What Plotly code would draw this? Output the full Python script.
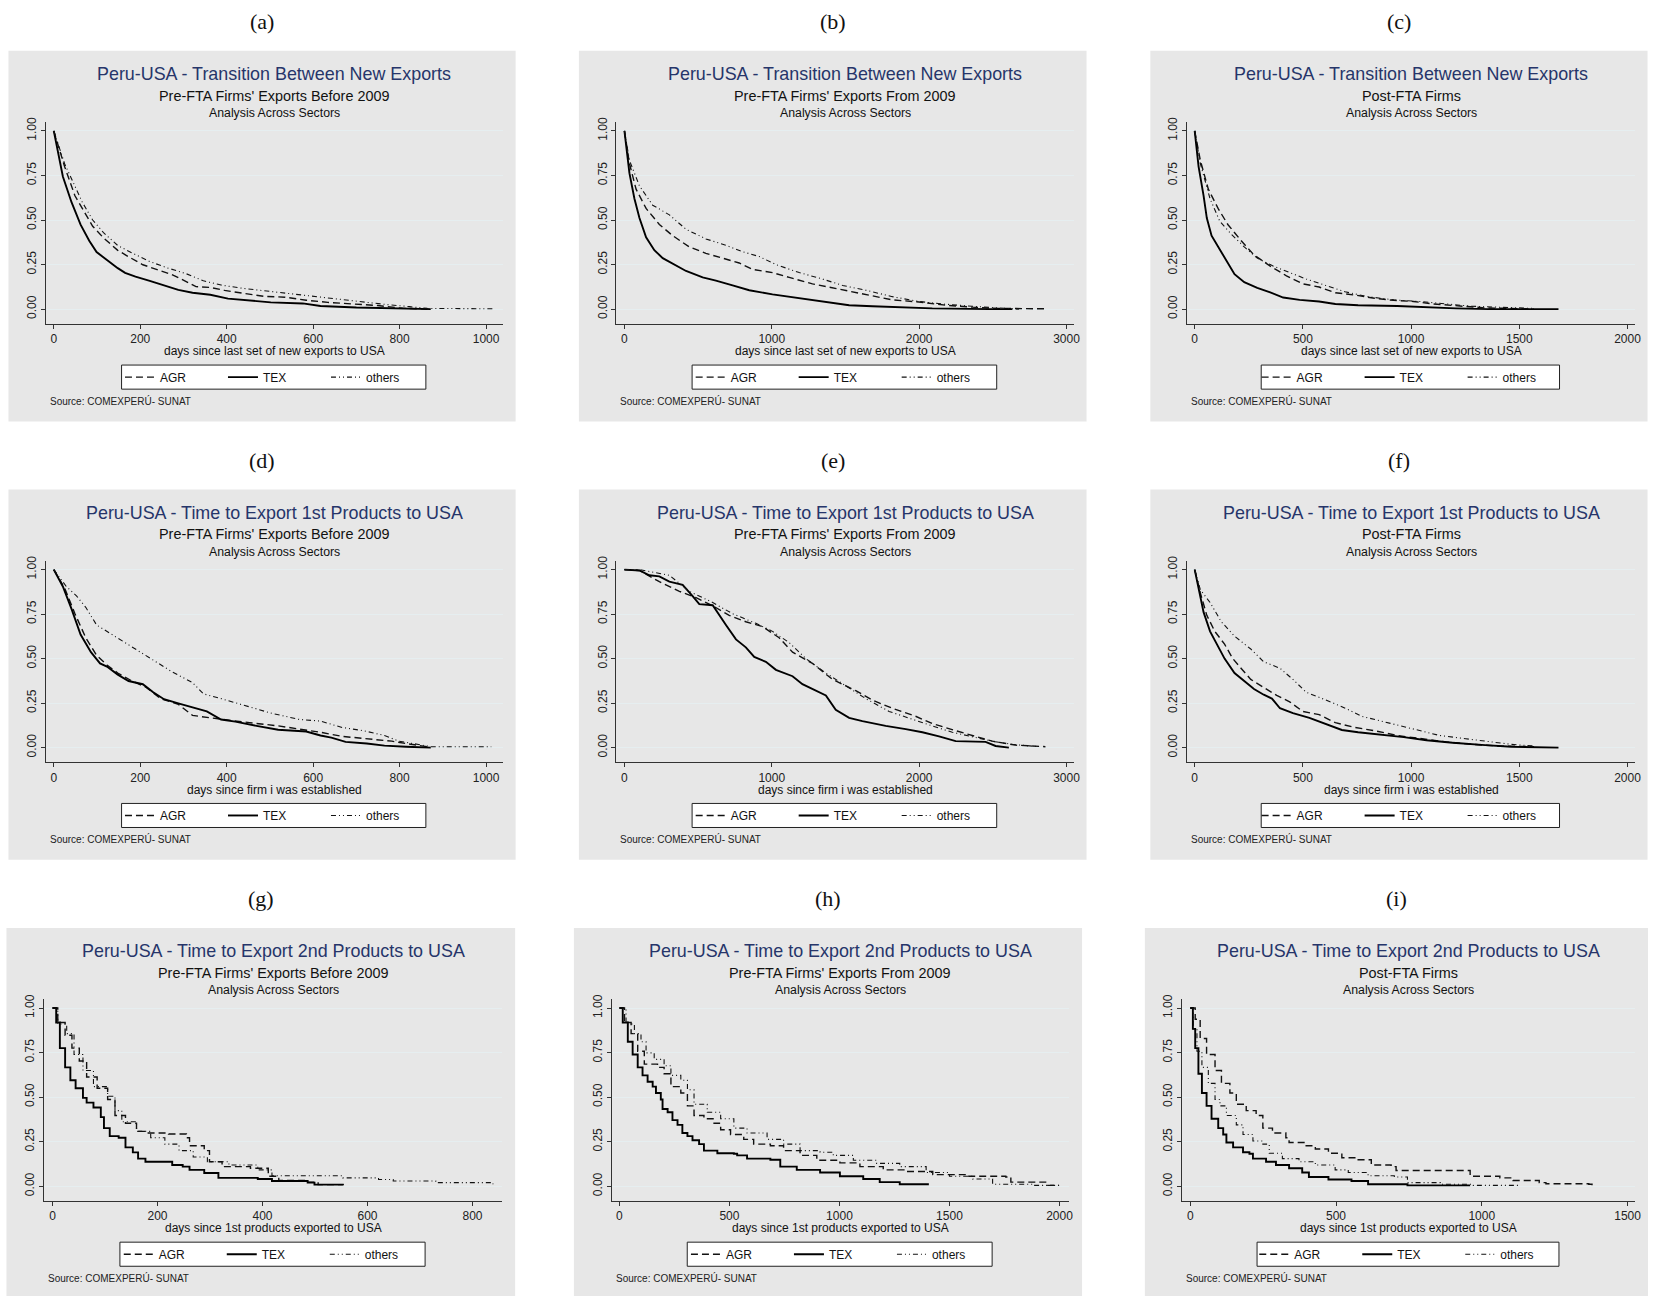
import plotly.graph_objects as go

W, H = 1661, 1296
FONT = "Liberation Sans, Arial, sans-serif"
SERIF = "Liberation Serif, Times New Roman, serif"

SECTORS = ["AGR", "TEX", "others"]
LETTERS = ["(a)", "(b)", "(c)", "(d)", "(e)", "(f)", "(g)", "(h)", "(i)"]
ROW_TITLES = ["Peru-USA - Transition Between New Exports",
              "Peru-USA - Time to Export 1st Products to USA",
              "Peru-USA - Time to Export 2nd Products to USA"]
COL_SUBTITLES = ["Pre-FTA Firms' Exports Before 2009",
                 "Pre-FTA Firms' Exports From 2009",
                 "Post-FTA Firms"]
SUBSUB = "Analysis Across Sectors"
ROW_XTITLES = ["days since last set of new exports to USA",
               "days since firm i was established",
               "days since 1st products exported to USA"]
SOURCE = "Source: COMEXPERÚ- SUNAT"
Y_TICKS = [0, 0.25, 0.5, 0.75, 1.0]
Y_TICK_LABELS = ["0.00", "0.25", "0.50", "0.75", "1.00"]
X_TICKS_A = [0, 200, 400, 600, 800, 1000]
X_TICKS_B = [0, 1000, 2000, 3000]
X_TICKS_C = [0, 500, 1000, 1500, 2000]
X_TICKS_G = [0, 200, 400, 600, 800]
X_TICKS_H = [0, 500, 1000, 1500, 2000]
X_TICKS_I = [0, 500, 1000, 1500]

# ---------------- survival data (days, survival) ----------------
A_AGR_D = [0, 25, 49, 74, 90, 115, 148, 173, 206, 239, 272, 296, 329, 362, 395, 436, 486, 535, 584, 634, 700, 749, 807, 864]
A_AGR_S = [1, 0.80, 0.636, 0.528, 0.465, 0.40, 0.33, 0.294, 0.249, 0.222, 0.195, 0.168, 0.126, 0.122, 0.105, 0.09, 0.072, 0.067, 0.05, 0.038, 0.027, 0.02, 0.005, 0.0]
A_TEX_D = [0, 21, 41, 62, 82, 99, 123, 148, 165, 189, 222, 255, 288, 321, 362, 403, 453, 502, 576, 617, 700, 782, 807, 872]
A_TEX_S = [1, 0.744, 0.60, 0.474, 0.384, 0.32, 0.276, 0.23, 0.204, 0.182, 0.159, 0.132, 0.108, 0.092, 0.081, 0.059, 0.05, 0.038, 0.032, 0.018, 0.009, 0.005, 0.002, 0.0]
A_OTH_D = [0, 25, 66, 90, 115, 148, 181, 222, 263, 305, 346, 387, 436, 502, 576, 658, 716, 765, 823, 864, 1020]
A_OTH_S = [1, 0.816, 0.60, 0.50, 0.429, 0.357, 0.315, 0.267, 0.231, 0.20, 0.159, 0.135, 0.117, 0.099, 0.077, 0.054, 0.038, 0.027, 0.014, 0.004, 0.002]

B_AGR_D = [0, 34, 79, 147, 237, 328, 440, 553, 666, 779, 870, 1005, 1118, 1276, 1457, 1638, 1818, 1999, 2180, 2360, 2541, 2857]
B_AGR_S = [1, 0.817, 0.673, 0.565, 0.475, 0.412, 0.349, 0.313, 0.286, 0.259, 0.223, 0.205, 0.178, 0.142, 0.112, 0.083, 0.052, 0.040, 0.022, 0.011, 0.004, 0.002]
B_TEX_D = [0, 34, 68, 102, 147, 203, 260, 328, 418, 531, 621, 734, 847, 1005, 1186, 1367, 1525, 1683, 1909, 2089, 2473, 2632]
B_TEX_S = [1, 0.763, 0.619, 0.511, 0.403, 0.331, 0.286, 0.255, 0.214, 0.178, 0.160, 0.133, 0.106, 0.083, 0.061, 0.043, 0.022, 0.016, 0.011, 0.004, 0.0, 0.0]
B_OTH_D = [0, 34, 102, 192, 305, 418, 553, 689, 802, 915, 1028, 1186, 1344, 1480, 1638, 1818, 1999, 2157, 2360, 2541, 2677]
B_OTH_S = [1, 0.835, 0.691, 0.583, 0.529, 0.448, 0.394, 0.358, 0.322, 0.295, 0.250, 0.205, 0.169, 0.133, 0.106, 0.070, 0.043, 0.029, 0.016, 0.007, 0.0]

C_AGR_D = [0, 26, 63, 108, 153, 214, 274, 349, 424, 500, 575, 650, 740, 831, 921, 1011, 1102, 1222, 1342, 1463, 1568]
C_AGR_S = [1, 0.835, 0.673, 0.565, 0.475, 0.385, 0.304, 0.241, 0.187, 0.142, 0.124, 0.092, 0.079, 0.061, 0.049, 0.043, 0.029, 0.016, 0.007, 0.004, 0.0]
C_TEX_D = [0, 18, 41, 56, 78, 108, 146, 184, 229, 289, 349, 409, 485, 575, 650, 755, 936, 1056, 1207, 1357, 1681]
C_TEX_S = [1, 0.80, 0.637, 0.511, 0.412, 0.349, 0.277, 0.196, 0.151, 0.119, 0.094, 0.065, 0.052, 0.043, 0.029, 0.022, 0.018, 0.011, 0.004, 0.0, 0.0]
C_OTH_D = [0, 26, 71, 116, 169, 229, 289, 364, 439, 515, 605, 695, 801, 921, 1041, 1162, 1282, 1402, 1568]
C_OTH_S = [1, 0.817, 0.619, 0.493, 0.421, 0.349, 0.286, 0.241, 0.205, 0.169, 0.133, 0.097, 0.070, 0.052, 0.043, 0.029, 0.016, 0.011, 0.004]

D_AGR_D = [0, 25, 49, 74, 99, 123, 148, 181, 214, 247, 288, 321, 362, 403, 453, 519, 568, 617, 667, 732, 782, 815, 864]
D_AGR_S = [1, 0.896, 0.752, 0.617, 0.518, 0.464, 0.419, 0.374, 0.338, 0.275, 0.243, 0.181, 0.167, 0.153, 0.14, 0.122, 0.104, 0.086, 0.063, 0.047, 0.036, 0.023, 0.005]
D_TEX_D = [0, 21, 41, 62, 86, 107, 123, 148, 173, 206, 230, 255, 288, 313, 354, 387, 420, 469, 519, 584, 617, 642, 675, 724, 765, 815, 872]
D_TEX_S = [1, 0.905, 0.779, 0.635, 0.536, 0.473, 0.455, 0.41, 0.374, 0.356, 0.311, 0.272, 0.248, 0.23, 0.203, 0.158, 0.146, 0.122, 0.10, 0.09, 0.068, 0.056, 0.032, 0.023, 0.011, 0.005, 0.0]
D_OTH_D = [0, 29, 53, 74, 99, 140, 189, 222, 272, 321, 346, 387, 436, 502, 568, 617, 667, 716, 765, 798, 831, 872, 1012]
D_OTH_S = [1, 0.905, 0.851, 0.788, 0.689, 0.626, 0.554, 0.50, 0.428, 0.365, 0.302, 0.275, 0.239, 0.194, 0.158, 0.149, 0.113, 0.095, 0.068, 0.036, 0.023, 0.005, 0.005]

E_AGR_D = [0, 102, 237, 373, 486, 599, 711, 824, 937, 1050, 1141, 1276, 1412, 1570, 1683, 1818, 1976, 2089, 2248, 2360, 2496, 2654, 2857]
E_AGR_S = [1, 0.995, 0.932, 0.878, 0.842, 0.797, 0.743, 0.707, 0.68, 0.617, 0.536, 0.473, 0.383, 0.32, 0.266, 0.221, 0.176, 0.135, 0.095, 0.068, 0.036, 0.014, 0.005]
E_TEX_D = [0, 102, 169, 237, 305, 395, 463, 508, 599, 644, 689, 757, 824, 881, 960, 1028, 1141, 1208, 1299, 1367, 1434, 1525, 1615, 1773, 1909, 2022, 2135, 2248, 2451, 2519, 2609]
E_TEX_S = [1, 0.995, 0.968, 0.962, 0.932, 0.914, 0.851, 0.806, 0.80, 0.743, 0.689, 0.608, 0.563, 0.509, 0.482, 0.437, 0.401, 0.356, 0.32, 0.293, 0.212, 0.167, 0.149, 0.122, 0.104, 0.086, 0.063, 0.036, 0.032, 0.009, 0.0]
E_OTH_D = [0, 102, 305, 440, 599, 734, 892, 1005, 1118, 1231, 1367, 1502, 1638, 1796, 1954, 2089, 2225, 2360, 2496, 2632, 2812]
E_OTH_S = [1, 1.0, 0.968, 0.878, 0.815, 0.752, 0.698, 0.653, 0.59, 0.50, 0.419, 0.347, 0.275, 0.203, 0.158, 0.122, 0.086, 0.059, 0.036, 0.018, 0.005]

F_AGR_D = [0, 26, 56, 93, 138, 176, 214, 259, 319, 379, 439, 500, 575, 650, 740, 831, 936, 1041, 1162, 1282, 1402, 1568]
F_AGR_S = [1, 0.869, 0.743, 0.653, 0.581, 0.50, 0.446, 0.383, 0.338, 0.293, 0.257, 0.203, 0.185, 0.14, 0.113, 0.095, 0.068, 0.05, 0.032, 0.018, 0.009, 0.005]
F_TEX_D = [0, 18, 41, 71, 101, 138, 184, 229, 274, 319, 357, 394, 454, 530, 605, 680, 755, 861, 966, 1071, 1192, 1342, 1463, 1681]
F_TEX_S = [1, 0.887, 0.761, 0.653, 0.581, 0.50, 0.419, 0.374, 0.329, 0.297, 0.275, 0.221, 0.194, 0.167, 0.131, 0.099, 0.086, 0.074, 0.059, 0.041, 0.027, 0.014, 0.005, 0.0]
F_OTH_D = [0, 26, 71, 123, 184, 259, 319, 394, 454, 515, 590, 680, 771, 861, 951, 1041, 1132, 1252, 1357, 1463, 1568]
F_OTH_S = [1, 0.887, 0.815, 0.707, 0.626, 0.554, 0.482, 0.446, 0.383, 0.311, 0.275, 0.23, 0.176, 0.149, 0.122, 0.095, 0.068, 0.05, 0.032, 0.018, 0.009]

G_AGR_D = [0, 10, 24, 37, 51, 65, 85, 105, 119, 139, 160, 180, 221, 255, 261, 289, 299, 323, 377, 411, 431, 486, 506, 553]
G_AGR_S = [1, 0.919, 0.847, 0.775, 0.703, 0.613, 0.55, 0.487, 0.397, 0.353, 0.308, 0.299, 0.293, 0.272, 0.227, 0.2, 0.137, 0.11, 0.101, 0.056, 0.032, 0.023, 0.009, 0.005]
G_TEX_D = [0, 7, 14, 24, 34, 44, 58, 65, 78, 92, 98, 109, 126, 139, 153, 163, 177, 214, 228, 248, 261, 289, 316, 391, 418, 486, 499, 553]
G_TEX_S = [1, 0.919, 0.775, 0.667, 0.595, 0.55, 0.496, 0.469, 0.442, 0.388, 0.326, 0.281, 0.272, 0.218, 0.19, 0.155, 0.137, 0.137, 0.119, 0.11, 0.092, 0.074, 0.047, 0.041, 0.029, 0.02, 0.009, 0.005]
G_OTH_D = [0, 10, 27, 41, 58, 78, 105, 119, 132, 160, 187, 214, 241, 268, 295, 336, 391, 418, 513, 553, 621, 649, 730, 839]
G_OTH_S = [1, 0.91, 0.856, 0.739, 0.649, 0.559, 0.505, 0.424, 0.362, 0.308, 0.272, 0.236, 0.2, 0.164, 0.137, 0.119, 0.092, 0.059, 0.059, 0.047, 0.038, 0.029, 0.02, 0.011]

H_AGR_D = [0, 23, 53, 83, 113, 173, 203, 234, 279, 309, 339, 384, 430, 460, 505, 565, 610, 686, 746, 821, 897, 1002, 1093, 1199, 1304, 1424, 1575, 1756, 1779, 1877, 1937, 1997]
H_AGR_S = [1, 0.919, 0.856, 0.757, 0.685, 0.667, 0.631, 0.559, 0.523, 0.451, 0.397, 0.379, 0.353, 0.317, 0.29, 0.263, 0.236, 0.227, 0.2, 0.173, 0.146, 0.131, 0.11, 0.092, 0.083, 0.065, 0.056, 0.052, 0.023, 0.023, 0.005, 0.005]
H_TEX_D = [0, 15, 38, 60, 83, 105, 128, 151, 166, 188, 196, 219, 241, 264, 286, 309, 332, 362, 384, 445, 520, 535, 580, 686, 731, 806, 912, 1002, 1108, 1183, 1274, 1402]
H_TEX_S = [1, 0.919, 0.811, 0.739, 0.667, 0.622, 0.586, 0.559, 0.523, 0.487, 0.433, 0.415, 0.371, 0.344, 0.299, 0.281, 0.258, 0.236, 0.20, 0.185, 0.182, 0.173, 0.155, 0.149, 0.11, 0.092, 0.077, 0.056, 0.041, 0.023, 0.011, 0.005]
H_OTH_D = [0, 30, 68, 98, 121, 158, 203, 234, 279, 309, 339, 399, 460, 520, 580, 671, 746, 821, 912, 972, 1063, 1169, 1274, 1394, 1500, 1605, 1696, 1877, 2012]
H_OTH_S = [1, 0.91, 0.856, 0.811, 0.748, 0.712, 0.676, 0.622, 0.595, 0.541, 0.46, 0.415, 0.379, 0.326, 0.299, 0.263, 0.236, 0.2, 0.191, 0.173, 0.146, 0.128, 0.11, 0.077, 0.056, 0.041, 0.011, 0.005, 0.005]

I_AGR_D = [0, 17, 34, 56, 85, 107, 136, 158, 192, 226, 249, 282, 328, 339, 395, 429, 474, 520, 576, 621, 689, 706, 915, 960, 1062, 1107, 1197, 1220, 1367, 1378]
I_AGR_S = [1, 0.937, 0.829, 0.739, 0.649, 0.577, 0.523, 0.46, 0.424, 0.397, 0.326, 0.299, 0.272, 0.245, 0.227, 0.209, 0.185, 0.16, 0.149, 0.119, 0.11, 0.088, 0.088, 0.056, 0.047, 0.032, 0.02, 0.014, 0.011, 0.005]
I_TEX_D = [0, 9, 17, 28, 40, 56, 73, 96, 113, 124, 147, 181, 203, 215, 260, 294, 339, 384, 407, 474, 553, 610, 745, 960]
I_TEX_S = [1, 0.883, 0.775, 0.631, 0.523, 0.451, 0.379, 0.326, 0.29, 0.245, 0.218, 0.191, 0.182, 0.155, 0.137, 0.119, 0.101, 0.077, 0.052, 0.038, 0.029, 0.011, 0.005, 0.005]
I_OTH_D = [0, 11, 23, 40, 62, 85, 102, 124, 158, 181, 215, 249, 271, 316, 373, 429, 497, 542, 610, 700, 745, 858, 971, 1130]
I_OTH_S = [1, 0.883, 0.757, 0.667, 0.577, 0.487, 0.451, 0.397, 0.344, 0.29, 0.254, 0.236, 0.185, 0.155, 0.137, 0.119, 0.092, 0.077, 0.059, 0.052, 0.020, 0.011, 0.005, 0.005]

PANEL_DATA = [
    [(A_AGR_D, A_AGR_S), (A_TEX_D, A_TEX_S), (A_OTH_D, A_OTH_S)],
    [(B_AGR_D, B_AGR_S), (B_TEX_D, B_TEX_S), (B_OTH_D, B_OTH_S)],
    [(C_AGR_D, C_AGR_S), (C_TEX_D, C_TEX_S), (C_OTH_D, C_OTH_S)],
    [(D_AGR_D, D_AGR_S), (D_TEX_D, D_TEX_S), (D_OTH_D, D_OTH_S)],
    [(E_AGR_D, E_AGR_S), (E_TEX_D, E_TEX_S), (E_OTH_D, E_OTH_S)],
    [(F_AGR_D, F_AGR_S), (F_TEX_D, F_TEX_S), (F_OTH_D, F_OTH_S)],
    [(G_AGR_D, G_AGR_S), (G_TEX_D, G_TEX_S), (G_OTH_D, G_OTH_S)],
    [(H_AGR_D, H_AGR_S), (H_TEX_D, H_TEX_S), (H_OTH_D, H_OTH_S)],
    [(I_AGR_D, I_AGR_S), (I_TEX_D, I_TEX_S), (I_OTH_D, I_OTH_S)],
]
X_TICKS = [X_TICKS_A, X_TICKS_B, X_TICKS_C, X_TICKS_A, X_TICKS_B, X_TICKS_C,
           X_TICKS_G, X_TICKS_H, X_TICKS_I]
X_RANGES = [[-18, 1039], [-54, 3050], [-35, 2035],
            [-18, 1039], [-54, 3050], [-35, 2035],
            [-16, 857], [-36, 2045], [-28, 1527]]
LINE_SHAPES = ["linear"] * 6 + ["hv"] * 3

# ---------------- layout geometry (pixels) ----------------
BOXES = [
    (8.5, 46, 509, 372), (581, 46, 509.5, 372), (1154.5, 46, 499, 372),
    (8.5, 486.5, 509, 371.5), (581, 486.5, 509.5, 371.5), (1154.5, 486.5, 499, 371.5),
    (6.5, 926.5, 510.5, 372), (576, 926.5, 510, 372), (1149, 926.5, 505, 372),
]
LABEL_Y = [17, 457.5, 897]

STYLES = {
    "AGR": dict(color="#111", width=1.4, dash="7px,4px"),
    "TEX": dict(color="#000", width=1.9, dash="solid"),
    "others": dict(color="#111", width=1.1, dash="5px,3px,1px,3px,1px,3px"),
}

GREY = "#e7e7e7"
NAVY = "#26356a"
AXC = "#333333"


def px(x):
    return x / W


def py(y):
    return 1 - y / H


fig = go.Figure()
layout = dict(width=W, height=H, margin=dict(l=0, r=0, t=0, b=0),
              paper_bgcolor="white", plot_bgcolor="white",
              font=dict(family=FONT, color="#222"), showlegend=True)
shapes = []
annotations = []


def ann(text, x, y, size, color="#111", xanchor="center", family=FONT):
    annotations.append(dict(text=text, x=px(x), y=py(y), xref="paper", yref="paper",
                            xanchor=xanchor, yanchor="middle", showarrow=False,
                            font=dict(size=size, color=color, family=family)))


for i, (x0, y0, w, h) in enumerate(BOXES):
    n = i + 1
    sfx = "" if n == 1 else str(n)
    row, col = i // 3, i % 3
    left = x0 + 0.074 * w
    right = x0 + 0.975 * w
    top = y0 + 0.193 * h
    bottom = y0 + 0.737 * h
    cx = (left + right) / 2

    # grey panel background
    shapes.append(dict(type="rect", xref="paper", yref="paper", layer="below",
                       x0=px(x0), x1=px(x0 + w), y0=py(min(y0 + h, H)), y1=py(y0),
                       fillcolor=GREY, line=dict(width=0)))
    # legend frame
    shapes.append(dict(type="rect", xref="paper", yref="paper", layer="above",
                       x0=px(x0 + 0.223 * w), x1=px(x0 + 0.823 * w),
                       y0=py(y0 + 0.913 * h), y1=py(y0 + 0.848 * h),
                       fillcolor="white", line=dict(width=1, color="#222")))

    layout["xaxis" + sfx] = dict(
        domain=[px(left), px(right)], anchor="y" + sfx, range=X_RANGES[i],
        tickvals=X_TICKS[i], ticktext=[str(v) for v in X_TICKS[i]],
        ticks="outside", ticklen=4, tickcolor=AXC, showline=True, linecolor=AXC,
        linewidth=1, showgrid=False, zeroline=False,
        tickfont=dict(size=12, color="#222", family=FONT), fixedrange=True)
    layout["yaxis" + sfx] = dict(
        domain=[py(bottom), py(top)], anchor="x" + sfx, range=[-0.083, 1.048],
        tickvals=Y_TICKS, ticktext=Y_TICK_LABELS, tickangle=-90,
        ticks="outside", ticklen=4, tickcolor=AXC, showline=True, linecolor=AXC,
        linewidth=1, showgrid=True, gridcolor="#e6eef0", gridwidth=1, zeroline=False,
        tickfont=dict(size=12, color="#222", family=FONT), fixedrange=True)

    legname = "legend" + sfx
    for s, (days, surv) in zip(SECTORS, PANEL_DATA[i]):
        fig.add_trace(go.Scatter(
            x=days, y=surv, mode="lines", name=s,
            line=dict(shape=LINE_SHAPES[i], **STYLES[s]),
            xaxis="x" + sfx, yaxis="y" + sfx, legend=legname,
            hoverinfo="skip"))
    layout[legname] = dict(
        x=px(cx), y=py(y0 + 0.8805 * h), xanchor="center", yanchor="middle",
        orientation="h", bgcolor="rgba(0,0,0,0)", borderwidth=0,
        font=dict(size=12, color="#111", family=FONT),
        entrywidth=58, entrywidthmode="pixels", itemwidth=30,
        itemclick=False, itemdoubleclick=False)

    ann(ROW_TITLES[row], cx, y0 + 0.063 * h, 17.9, NAVY)
    ann(COL_SUBTITLES[col], cx, y0 + 0.121 * h, 14.4, "#111")
    ann(SUBSUB, cx, y0 + 0.168 * h, 12.3, "#111")
    ann(ROW_XTITLES[row], cx, y0 + 0.811 * h, 12, "#111")
    ann(SOURCE, x0 + 0.078 * w, y0 + 0.944 * h, 10, "#222", xanchor="left")
    ann(LETTERS[i], x0 + w / 2, LABEL_Y[row], 22, "#111", family=SERIF)

layout["shapes"] = shapes
layout["annotations"] = annotations
fig.update_layout(**layout)

fig.write_html("out.html", config={"displayModeBar": False},
               post_script="document.body.style.margin='0';document.body.style.overflow='hidden';")
